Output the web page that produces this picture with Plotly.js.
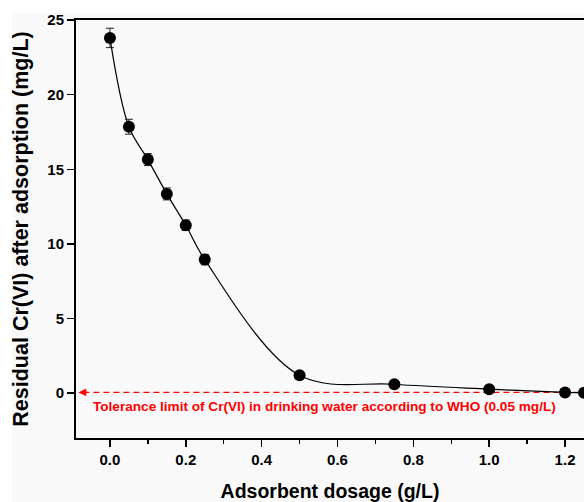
<!DOCTYPE html>
<html>
<head>
<meta charset="utf-8">
<script src="https://cdn.plot.ly/plotly-3.0.1.min.js"></script>
<style>
  html, body { margin: 0; padding: 0; background: #ffffff; width: 584px; height: 502px; overflow: hidden; }
  #chart { position: absolute; left: 0; top: 0; width: 584px; height: 502px; }
</style>
</head>
<body>
<div id="chart"></div>
<script>
const dosage = [0, 0.05, 0.1, 0.15, 0.2, 0.25, 0.5, 0.75, 1.0, 1.2, 1.25];
const residual = [23.8, 17.85, 15.65, 13.35, 11.25, 8.95, 1.2, 0.6, 0.27, 0.05, 0.03];
const errors = [0.65, 0.5, 0.4, 0.4, 0.35, 0.35, 0.1, 0.1, 0.05, 0.05, 0.05];
const whoLimit = 0.05;
const whoLabel = "Tolerance limit of Cr(VI) in drinking water according to WHO (0.05 mg/L)";
const xTicks = [0, 0.2, 0.4, 0.6, 0.8, 1.0, 1.2];
const xTickText = ["0.0", "0.2", "0.4", "0.6", "0.8", "1.0", "1.2"];
const yTicks = [0, 5, 10, 15, 20, 25];

const fontFam = "Liberation Sans, Arial, sans-serif";

const trace = {
  x: dosage, y: residual, type: 'scatter', mode: 'lines+markers',
  line: { color: '#000', width: 1.2, shape: 'spline', smoothing: 1 },
  marker: { color: '#000', size: 12 },
  error_y: { type: 'data', array: errors, visible: true, color: '#222', thickness: 1, width: 4 },
  cliponaxis: false,
  showlegend: false
};

const layout = {
  width: 584, height: 502,
  margin: { l: 76, r: 0, t: 20, b: 64 },
  paper_bgcolor: '#ffffff', plot_bgcolor: 'rgba(0,0,0,0)',
  font: { family: fontFam, color: '#000' },
  xaxis: {
    range: [-0.0895, 1.25], showgrid: false, zeroline: false,
    showline: true, linecolor: '#000', linewidth: 2, mirror: true,
    ticks: 'outside', ticklen: 7, tickwidth: 1.5, tickcolor: '#000',
    tickvals: xTicks, ticktext: xTickText,
    tickfont: { size: 15, weight: 700, family: fontFam },
    minor: { dtick: 0.1, tick0: 0, ticks: 'outside', ticklen: 4, tickwidth: 1.5, tickcolor: '#000' },
    title: { text: 'Adsorbent dosage (g/L)', font: { size: 19.5, weight: 700, family: fontFam }, standoff: 19 },
    automargin: false
  },
  yaxis: {
    range: [-3, 25.0005], showgrid: false, zeroline: false,
    showline: true, linecolor: '#000', linewidth: 2, mirror: false,
    ticks: 'outside', ticklen: 7, tickwidth: 1.5, tickcolor: '#000',
    tickvals: yTicks, ticklabeloverflow: 'allow',
    tickfont: { size: 15, weight: 700, family: fontFam },
    title: { text: 'Residual Cr(VI) after adsorption (mg/L)', font: { size: 21.5, weight: 700, family: fontFam }, standoff: 13 },
    automargin: false
  },
  shapes: [
    {
      type: 'rect', xref: 'paper', yref: 'paper', x0: -0.126, x1: 1.01, y0: -0.16, y1: 1.0167,
      fillcolor: '#f9f9f9', line: { width: 0 }, layer: 'below'
    },
    {
      type: 'line', xref: 'x', yref: 'y', x0: -0.07, x1: 1.25, y0: whoLimit, y1: whoLimit,
      line: { color: '#ff0000', width: 1.3, dash: '6px,4px' }, layer: 'below'
    }
  ],
  annotations: [
    {
      x: -0.083, y: whoLimit, xref: 'x', yref: 'y', ax: -0.055, ay: whoLimit, axref: 'x', ayref: 'y',
      showarrow: true, arrowhead: 2, arrowsize: 1.2, arrowwidth: 1.3, arrowcolor: '#ff0000', text: ''
    },
    {
      x: 0.566, y: -0.87, xref: 'x', yref: 'y', showarrow: false, text: whoLabel,
      font: { color: '#ff0000', size: 13.6, weight: 700, family: fontFam }
    }
  ]
};

Plotly.newPlot('chart', [trace], layout, { displayModeBar: false, staticPlot: true });
</script>
</body>
</html>
